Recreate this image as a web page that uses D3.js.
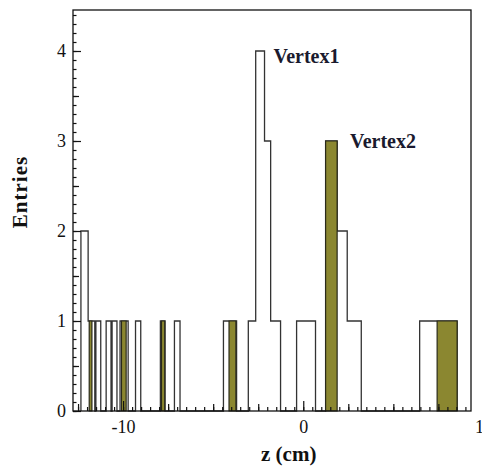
<!DOCTYPE html>
<html>
<head>
  <script src="https://d3js.org/d3.v7.min.js"></script>
  <style>
    body { margin: 0; background: #fff; }
    text { font-family: "Liberation Serif", "Times New Roman", serif; fill: #111; }
  </style>
</head>
<body>
  <div id="chart"></div>
  <script type="text/javascript">
    // all tracks (outline) : bin edges in cm and entries per bin (0 = gap)
    var v1Edges = [-12.34, -11.94, -11.57, -11.51, -11.24, -10.94, -10.67, -10.61, -10.34, -10.17, -9.72,
      -9.31, -9.02, -7.93, -7.67, -7.15, -6.84, -4.43, -3.70, -3.05, -2.64, -2.15, -1.81, -1.26,
      -0.37, 0.68, 1.24, 1.88, 2.44, 3.22, 6.46, 8.54];
    var v1Counts = [2, 1, 0, 1, 0, 1, 0, 1, 0, 1, 0,
      1, 0, 1, 0, 1, 0, 1, 0, 1, 4, 3, 1, 0,
      1, 0, 3, 2, 1, 0, 1];
    // vertex 2 (filled)
    var v2Edges = [-11.88, -11.73, -10.09, -9.83, -7.87, -7.69, -4.12, -3.74, 1.24, 1.88, 7.43, 8.54];
    var v2Counts = [1, 0, 1, 0, 1, 0, 1, 0, 3, 0, 1];
    var xLabels = [-10, 0, 10];
    var yLabels = [0, 1, 2, 3, 4];
    var peakLabels = [{ name: "Vertex1", z: -1.65, n: 3.87 }, { name: "Vertex2", z: 2.6, n: 2.92 }];

    var W = 482, H = 466;
    var margin = { top: 10, right: 11, bottom: 55, left: 73 };
    var width = W - margin.left - margin.right,
      height = H - margin.top - margin.bottom;

    var svg = d3.select("#chart").append("svg")
      .attr("width", W).attr("height", H);
    var g = svg.append("g")
      .attr("transform", "translate(" + margin.left + "," + margin.top + ")");

    var x = d3.scaleLinear().domain([-12.78, 9.31]).range([0, width]);
    var y = d3.scaleLinear().domain([0, height / 90]).range([height, 0]);

    function steps(edges, counts) {
      var pts = counts.map(function (c, i) { return [edges[i], c]; });
      pts.push([edges[edges.length - 1], 0]);
      return pts;
    }

    var line = d3.line()
      .x(function (d) { return x(d[0]); })
      .y(function (d) { return y(d[1]); })
      .curve(d3.curveStepAfter);
    var area = d3.area()
      .x(function (d) { return x(d[0]); })
      .y0(y(0))
      .y1(function (d) { return y(d[1]); })
      .curve(d3.curveStepAfter);

    var p1 = steps(v1Edges, v1Counts);
    p1.unshift([v1Edges[0], 0]);
    g.append("path")
      .attr("d", line(p1))
      .attr("fill", "none")
      .attr("stroke", "#333")
      .attr("stroke-width", 1.3);

    // filled bars, one path per block so gaps stay empty
    var blocks = [];
    v2Counts.forEach(function (c, i) {
      if (c > 0) blocks.push([[v2Edges[i], c], [v2Edges[i + 1], c]]);
    });
    g.selectAll(".v2").data(blocks)
      .enter().append("path")
      .attr("class", "v2")
      .attr("d", function (d) { return area(d); })
      .attr("fill", "#8b8730")
      .attr("stroke", "#2a2a1a")
      .attr("stroke-width", 1.2);

    // x ticks (pointing up)
    var xMinor = d3.range(-12.5, 9.3, 0.5);
    g.append("g").attr("transform", "translate(0," + height + ")")
      .call(d3.axisBottom(x).tickValues(xMinor).tickSize(-4).tickFormat(""))
      .call(function (a) { a.select(".domain").remove(); });
    g.append("g").attr("transform", "translate(0," + height + ")")
      .call(d3.axisBottom(x).tickValues([-12.5, -7.5, -5, -2.5, 2.5, 5, 7.5]).tickSize(-7).tickFormat(""))
      .call(function (a) { a.select(".domain").remove(); });
    var xa = g.append("g").attr("transform", "translate(0," + height + ")")
      .call(d3.axisBottom(x).tickValues(xLabels).tickSize(-10).tickPadding(9)
        .tickFormat(function (d) { return String(d); }));
    xa.select(".domain").remove();
    xa.selectAll("text").style("font-size", "18px");

    // y ticks (pointing right)
    var yMinor = d3.range(0, 4.45, 0.1);
    g.append("g")
      .call(d3.axisLeft(y).tickValues(yMinor).tickSize(-3.5).tickFormat(""))
      .call(function (a) { a.select(".domain").remove(); });
    g.append("g")
      .call(d3.axisLeft(y).tickValues([0.5, 1.5, 2.5, 3.5]).tickSize(-6).tickFormat(""))
      .call(function (a) { a.select(".domain").remove(); });
    var ya = g.append("g")
      .call(d3.axisLeft(y).tickValues(yLabels).tickSize(-8).tickPadding(7).tickFormat(d3.format("d")));
    ya.select(".domain").remove();
    ya.selectAll("text").style("font-size", "18px");
    g.selectAll(".tick line").attr("stroke", "#111").attr("stroke-width", 1.2);

    // frame
    g.append("rect")
      .attr("width", width).attr("height", height)
      .attr("fill", "none")
      .attr("stroke", "#111")
      .attr("stroke-width", 1.3);

    g.selectAll(".peak").data(peakLabels)
      .enter().append("text")
      .attr("class", "peak")
      .attr("x", function (d) { return x(d.z); })
      .attr("y", function (d) { return y(d.n); })
      .style("font-size", "20px")
      .style("font-weight", "bold")
      .style("fill", "#1a1a2e")
      .text(function (d) { return d.name; });

    svg.append("text")
      .attr("x", 261).attr("y", 461)
      .style("font-size", "21px")
      .style("font-weight", "bold")
      .text("z (cm)");

    svg.append("text")
      .attr("transform", "translate(27,192) rotate(-90)")
      .attr("text-anchor", "middle")
      .style("font-size", "21px")
      .style("font-weight", "bold")
      .style("letter-spacing", "1px")
      .text("Entries");
  </script>
</body>
</html>
